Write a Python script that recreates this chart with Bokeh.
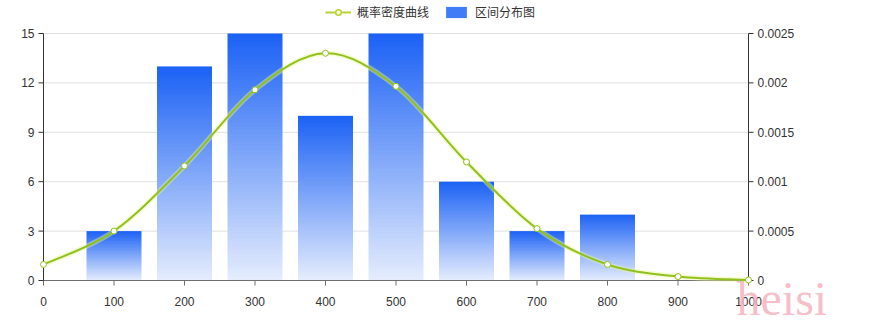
from bokeh.plotting import figure
from bokeh.models import Range1d, Legend, LegendItem, Label
from bokeh.core.properties import value
from bokeh.embed import file_html
from bokeh.resources import INLINE
import numpy as np

# ---- data ----
bar_x = [100, 200, 300, 400, 500, 600, 700, 800]
bar_counts = [3, 13, 15, 10, 15, 6, 3, 4]
curve_x = [0, 100, 200, 300, 400, 500, 600, 700, 800, 900, 1000]
curve_density = [0.000162, 0.000500, 0.001160, 0.001930, 0.002300, 0.001965, 0.001200, 0.000525, 0.000162, 0.000040, 0.000005]
x_ticks = [0, 100, 200, 300, 400, 500, 600, 700, 800, 900, 1000]
left_ticks = [0, 3, 6, 9, 12, 15]
right_ticks = [0, 0.0005, 0.001, 0.0015, 0.002, 0.0025]
legend_labels = ["概率密度曲线", "区间分布图"]
watermark = "heisi"

FONT = value("Liberation Sans")
CJK = "Noto Sans CJK SC"
LINE_COLOR = "#8fc21f"
AXIS_COLOR = "#333333"
XAXIS_COLOR = "#6e6e6e"

# layout constants (pixels)
W, H = 880, 330
LEFT, RIGHT = 43, 748                # pixel x of data 0 and 1000
TOP_GAP, BOTTOM_GAP = 33, 50         # space above the top tick / below the zero line
PLOT_H = H - TOP_GAP - BOTTOM_GAP
XMIN, XMAX = 0, 1000
YMAX, DMAX = 15, 0.0025
x_per_px = (XMAX - XMIN) / (RIGHT - LEFT)
u_per_px = YMAX / PLOT_H
d_per_px = DMAX / PLOT_H
OFF = -100000                        # off-canvas spot for legend-only proxies

p = figure(width=W, height=H, output_backend="svg", toolbar_location=None,
           x_range=Range1d(XMIN - LEFT * x_per_px, XMAX + (W - RIGHT) * x_per_px),
           y_range=Range1d(-BOTTOM_GAP * u_per_px, YMAX + TOP_GAP * u_per_px),
           min_border_left=0, min_border_right=0, min_border_top=0, min_border_bottom=0)
p.outline_line_color = None
p.background_fill_color = "white"
p.border_fill_color = "white"
p.extra_y_ranges = {"dens": Range1d(-BOTTOM_GAP * d_per_px, DMAX + TOP_GAP * d_per_px)}
p.xaxis.visible = False
p.yaxis.visible = False
p.xgrid.visible = False
p.ygrid.visible = False

# horizontal grid lines
p.segment(x0=[XMIN] * len(left_ticks), y0=left_ticks, x1=[XMAX] * len(left_ticks), y1=left_ticks,
          line_color="#e0e0e0", line_width=1)

# gradient bars as RGBA images (one vertical gradient per bar)
n = 64
top_rgb = np.array([28, 98, 245])
bot_rgb = np.array([228, 236, 253])
grad = np.zeros((n, 1), dtype=np.uint32)
view = grad.view(dtype=np.uint8).reshape((n, 1, 4))
for i in range(n):
    t = i / (n - 1)  # row 0 is bottom
    c = bot_rgb + (top_rgb - bot_rgb) * t
    view[i, 0, 0:3] = np.round(c).astype(np.uint8)
    view[i, 0, 3] = 255
w = 78
p.image_rgba(image=[grad] * len(bar_x), x=[x - w / 2 for x in bar_x], y=[0] * len(bar_x),
             dw=[w] * len(bar_x), dh=bar_counts)

# legend proxy for bars
bar_proxy = p.quad(left=[OFF], right=[OFF + 1], bottom=[0], top=[1], fill_color="#3f7df6", line_color=None)

# ---- x axis at y = 0 ----
p.segment(x0=[XMIN], y0=[0], x1=[XMAX], y1=[0], line_color=XAXIS_COLOR, line_width=1)
p.segment(x0=x_ticks, y0=[0] * len(x_ticks), x1=x_ticks, y1=[-5 * u_per_px] * len(x_ticks),
          line_color=XAXIS_COLOR, line_width=1)
p.text(x=x_ticks, y=[0] * len(x_ticks), text=[str(t) for t in x_ticks], y_offset=21,
       text_align="center", text_baseline="alphabetic", text_font_size="12px",
       text_color="#333333", text_font=FONT)

# ---- left axis at x = 0 ----
p.segment(x0=[XMIN], y0=[0], x1=[XMIN], y1=[YMAX], line_color=AXIS_COLOR, line_width=1)
p.segment(x0=[XMIN] * len(left_ticks), y0=left_ticks, x1=[XMIN - 5 * x_per_px] * len(left_ticks),
          y1=left_ticks, line_color=AXIS_COLOR, line_width=1)
p.text(x=[XMIN] * len(left_ticks), y=left_ticks, text=[str(t) for t in left_ticks], x_offset=-9,
       text_align="right", text_baseline="middle", text_font_size="12px",
       text_color="#333333", text_font=FONT)

# ---- right axis at x = 1000 ----
p.segment(x0=[XMAX], y0=[0], x1=[XMAX], y1=[DMAX], line_color=AXIS_COLOR, line_width=1,
          y_range_name="dens")
p.segment(x0=[XMAX] * len(right_ticks), y0=right_ticks, x1=[XMAX + 5 * x_per_px] * len(right_ticks),
          y1=right_ticks, line_color=AXIS_COLOR, line_width=1, y_range_name="dens")
p.text(x=[XMAX] * len(right_ticks), y=right_ticks, text=["%g" % t for t in right_ticks], x_offset=9,
       text_align="left", text_baseline="middle", text_font_size="12px",
       text_color="#333333", text_font=FONT, y_range_name="dens")

# smooth curve via Catmull-Rom -> bezier
xs = np.array(curve_x, dtype=float)
ys = np.array(curve_density, dtype=float)
x0s, y0s, x1s, y1s, cx0, cy0, cx1, cy1 = [], [], [], [], [], [], [], []
k = 1 / 6
for i in range(len(xs) - 1):
    pm = i - 1 if i > 0 else i
    pp = i + 2 if i + 2 < len(xs) else i + 1
    x0s.append(xs[i]); y0s.append(ys[i]); x1s.append(xs[i + 1]); y1s.append(ys[i + 1])
    cx0.append(xs[i] + (xs[i + 1] - xs[pm]) * k)
    cy0.append(ys[i] + (ys[i + 1] - ys[pm]) * k)
    cx1.append(xs[i + 1] - (xs[pp] - xs[i]) * k)
    cy1.append(ys[i + 1] - (ys[pp] - ys[i]) * k)
bz = dict(x0=x0s, y0=y0s, x1=x1s, y1=y1s, cx0=cx0, cy0=cy0, cx1=cx1, cy1=cy1, y_range_name="dens")
p.bezier(line_color="#eef39a", line_width=5, line_alpha=0.45, **bz)
p.bezier(line_color=LINE_COLOR, line_width=2, **bz)
line_proxy = p.line(x=[OFF, OFF + 1], y=[0, 0], line_color="#b9d232", line_width=2, y_range_name="dens")
leg_pt = p.scatter(x=[OFF], y=[0], size=11, marker="circle", fill_color="#fbfde8",
                   line_color="#b9d232", line_width=1.5, y_range_name="dens")
pts = p.scatter(x=curve_x, y=curve_density, size=6, marker="circle", fill_color="white",
                line_color=LINE_COLOR, line_width=1, y_range_name="dens")

legend = Legend(items=[LegendItem(label=legend_labels[0], renderers=[line_proxy, leg_pt]),
                       LegendItem(label=legend_labels[1], renderers=[bar_proxy])],
                orientation="horizontal", location=(325, 310),
                label_text_font=CJK, label_text_font_size="12px", label_text_color="#333333",
                glyph_width=26, glyph_height=14, spacing=14, padding=2, margin=0,
                border_line_color=None, background_fill_alpha=0, label_standoff=6)
p.add_layout(legend, "center")

wm = Label(x=XMAX - 12 * x_per_px, y=-18 * u_per_px, text=watermark,
           text_font="Liberation Serif", text_font_size="48px",
           text_color="#f4b3be", text_alpha=0.85, text_baseline="alphabetic")
p.add_layout(wm)

open("out.html", "w").write(file_html(p, INLINE))
